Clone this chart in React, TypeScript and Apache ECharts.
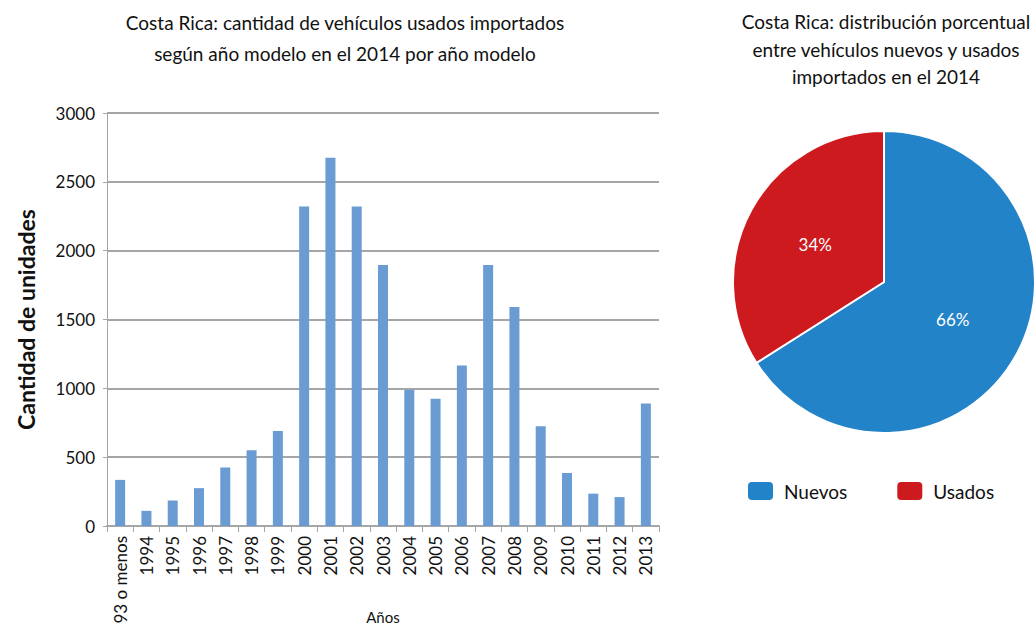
import React, { useEffect, useRef } from "react";
import * as echarts from "echarts";

const categories = ["93 o menos", "1994", "1995", "1996", "1997", "1998", "1999", "2000", "2001", "2002", "2003", "2004", "2005", "2006", "2007", "2008", "2009", "2010", "2011", "2012", "2013"];
const unidades = [335, 110, 185, 275, 425, 550, 690, 2320, 2675, 2320, 1895, 990, 925, 1165, 1895, 1590, 725, 385, 235, 210, 890];
const pieNames = ["Nuevos", "Usados"];
const pieValues = [66, 34];
const pieColors = ["#2283c8", "#cc1a1f"];

const FONT = "Lato, 'Open Sans', sans-serif";

export default function App() {
  const ref = useRef<HTMLDivElement>(null);
  useEffect(() => {
    if (!ref.current) return;
    const chart = echarts.init(ref.current, undefined, { renderer: "svg" });
    chart.setOption({
      animation: false,
      backgroundColor: "#ffffff",
      textStyle: { fontFamily: FONT },
      title: [
        {
          text: "Costa Rica: cantidad de vehículos usados importados\nsegún año modelo en el 2014 por año modelo",
          left: 340,
          top: 1.5,
          textAlign: "center",
          textStyle: { fontFamily: FONT, fontSize: 19, fontWeight: "normal", color: "#111", lineHeight: 31 },
        },
        {
          text: "Costa Rica: distribución porcentual\nentre vehículos nuevos y usados\nimportados en el 2014",
          left: 881,
          top: 3,
          textAlign: "center",
          textStyle: { fontFamily: FONT, fontSize: 19, fontWeight: "normal", color: "#111", lineHeight: 27.5 },
        },
      ],
      grid: { left: 107, top: 113, width: 552, height: 413, containLabel: false, outerBoundsMode: "none" },
      xAxis: {
        type: "category",
        data: categories,
        name: "Años",
        nameLocation: "middle",
        nameGap: 83,
        nameMoveOverlap: false,
        nameTextStyle: { fontFamily: FONT, fontSize: 15, color: "#111" },
        axisLine: { lineStyle: { color: "#a6a6a6", width: 2 } },
        axisTick: { show: true, length: 6, lineStyle: { color: "#a6a6a6", width: 1 } },
        axisLabel: { rotate: 90, fontFamily: FONT, fontSize: 17, color: "#111", interval: 0, margin: 10 },
      },
      yAxis: {
        type: "value",
        min: 0,
        max: 3000,
        interval: 500,
        name: "Cantidad de unidades",
        nameLocation: "middle",
        nameGap: 70,
        nameMoveOverlap: false,
        nameTextStyle: { fontFamily: FONT, fontSize: 23, fontWeight: "bold", color: "#111" },
        axisLine: { show: true, lineStyle: { color: "#a6a6a6", width: 1 } },
        axisTick: { show: true, length: 4, lineStyle: { color: "#a6a6a6" } },
        axisLabel: { fontFamily: FONT, fontSize: 17, color: "#111", margin: 12, formatter: (v: number) => String(v) },
        splitLine: { lineStyle: { color: "#a6a6a6", width: 2 } },
      },
      legend: {
        data: pieNames,
        left: 741,
        top: 475,
        icon: "roundRect",
        itemWidth: 27,
        itemHeight: 20,
        itemGap: 48,
        textStyle: { fontFamily: FONT, fontSize: 19, color: "#111", padding: [0, 0, 0, 5] },
      },
      series: [
        {
          type: "bar",
          data: unidades,
          barWidth: 10,
          itemStyle: { color: "#6a9bd3" },
          silent: true,
        },
        {
          type: "pie",
          center: [884, 282],
          radius: 151,
          startAngle: 90,
          clockwise: true,
          data: pieNames.map((n, i) => ({ name: n, value: pieValues[i], itemStyle: { color: pieColors[i] } })),
          itemStyle: { borderColor: "#ffffff", borderWidth: 2 },
          label: { show: true, position: "inside", formatter: "{d}%", color: "#ffffff", fontFamily: FONT, fontSize: 17 },
          labelLine: { show: false },
        },
      ],
    });
    return () => chart.dispose();
  }, []);
  return <div ref={ref} style={{ position: "fixed", left: 0, top: 0, width: 1035, height: 638 }} />;
}
